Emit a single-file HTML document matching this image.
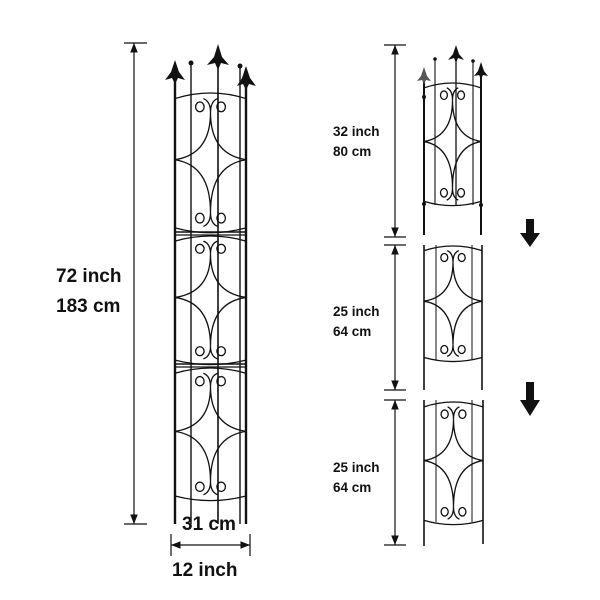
<!DOCTYPE html>
<html><head><meta charset="utf-8"><style>
html,body{margin:0;padding:0;background:#fff;}
svg{display:block}
text{font-family:"Liberation Sans",sans-serif;font-weight:bold;fill:#111}
</style></head><body>
<svg width="600" height="600" viewBox="0 0 600 600" xmlns="http://www.w3.org/2000/svg">
<defs>
<marker id="ah" viewBox="0 0 10 10" refX="10" refY="5" markerWidth="8" markerHeight="8" orient="auto-start-reverse"><path d="M0,1 L10,5 L0,9 z" fill="#111"/></marker>
<symbol id="panel" viewBox="0 0 100 100" preserveAspectRatio="none" overflow="visible">
<g fill="none" stroke="#111" stroke-width="1.3" vector-effect="non-scaling-stroke">
<path vector-effect="non-scaling-stroke" d="M0,4 Q50,-4 100,4"/>
<path vector-effect="non-scaling-stroke" d="M0,97 Q50,104 100,97"/>
<path vector-effect="non-scaling-stroke" d="M50,14 Q50,44 0,48 M50,14 Q50,44 100,48"/>
<path vector-effect="non-scaling-stroke" d="M0,48 Q50,52 50,86 M100,48 Q50,52 50,86"/>
<path vector-effect="non-scaling-stroke" d="M50,14 Q50,6 40,4 M50,14 Q50,6 60,4"/>
<path vector-effect="non-scaling-stroke" d="M50,86 Q50,94 40,96 M50,86 Q50,94 60,96"/>
<ellipse vector-effect="non-scaling-stroke" cx="35" cy="10" rx="6" ry="3.5"/>
<ellipse vector-effect="non-scaling-stroke" cx="65" cy="10" rx="6" ry="3.5"/>
<ellipse vector-effect="non-scaling-stroke" cx="35" cy="90" rx="6" ry="3.5"/>
<ellipse vector-effect="non-scaling-stroke" cx="65" cy="90" rx="6" ry="3.5"/>
</g>
</symbol>
</defs>

<!-- LEFT TRELLIS -->
<g stroke="#111" fill="none">
<line x1="134" y1="43" x2="134" y2="524" stroke-width="1.2" marker-start="url(#ah)" marker-end="url(#ah)"/>
<line x1="124" y1="43" x2="147" y2="43" stroke-width="1.2"/>
<line x1="124" y1="524" x2="147" y2="524" stroke-width="1.2"/>
<line x1="175" y1="72" x2="175" y2="524" stroke-width="2.4"/>
<line x1="191" y1="64" x2="191" y2="524" stroke-width="1.4"/>
<line x1="218" y1="60" x2="218" y2="524" stroke-width="1.6"/>
<line x1="240" y1="67" x2="240" y2="524" stroke-width="1.4"/>
<line x1="246" y1="78" x2="246" y2="524" stroke-width="2.4"/>
<line x1="176" y1="232" x2="246" y2="232" stroke-width="1.5"/>
<line x1="176" y1="235" x2="246" y2="235" stroke-width="1.2"/>
<line x1="176" y1="364" x2="246" y2="364" stroke-width="1.5"/>
<line x1="176" y1="367" x2="246" y2="367" stroke-width="1.2"/>
</g>
<use href="#panel" x="175" y="93" width="71" height="139"/>
<use href="#panel" x="175" y="236" width="71" height="128"/>
<use href="#panel" x="175" y="368" width="71" height="132"/>
<g fill="#111">
<circle cx="191" cy="63" r="2.5"/><circle cx="240" cy="66" r="2.5"/>
<path d="M175,60 L179,72 L185,80 L178,78 L175,84 L172,78 L165,80 L171,72 z"/>
<path d="M218,44 L222,57 L229,65 L221,63 L218,70 L215,63 L207,65 L214,57 z"/>
<path d="M246,66 L250,78 L256,86 L249,84 L246,90 L243,84 L237,86 L242,78 z"/>
</g>
<g stroke="#111" stroke-width="1.2">
<line x1="171" y1="534" x2="171" y2="556"/><line x1="250" y1="534" x2="250" y2="556"/>
<line x1="171" y1="545" x2="250" y2="545" marker-start="url(#ah)" marker-end="url(#ah)"/>
</g>
<text x="56" y="282" font-size="19">72 inch</text>
<text x="56" y="312" font-size="19">183 cm</text>
<text x="182" y="530" font-size="19">31 cm</text>
<text x="172" y="576" font-size="19">12 inch</text>

<!-- RIGHT TRELLIS -->
<g stroke="#111" fill="none" stroke-width="1.2">
<line x1="384" y1="45" x2="406" y2="45"/>
<line x1="384" y1="237" x2="406" y2="237"/>
<line x1="384" y1="245" x2="406" y2="245"/>
<line x1="384" y1="390" x2="406" y2="390"/>
<line x1="384" y1="400" x2="406" y2="400"/>
<line x1="384" y1="545" x2="406" y2="545"/>
<line x1="395" y1="45" x2="395" y2="237" marker-start="url(#ah)" marker-end="url(#ah)"/>
<line x1="395" y1="245" x2="395" y2="390" marker-start="url(#ah)" marker-end="url(#ah)"/>
<line x1="395" y1="400" x2="395" y2="545" marker-start="url(#ah)" marker-end="url(#ah)"/>
</g>
<g stroke="#111" fill="none">
<line x1="424" y1="78" x2="424" y2="235" stroke-width="2"/>
<line x1="435" y1="60" x2="435" y2="205" stroke-width="1.1"/>
<line x1="456" y1="55" x2="456" y2="205" stroke-width="1.3"/>
<line x1="473" y1="62" x2="473" y2="205" stroke-width="1.1"/>
<line x1="481" y1="72" x2="481" y2="235" stroke-width="2"/>
<line x1="424" y1="245" x2="424" y2="390" stroke-width="1.6"/>
<line x1="436" y1="245" x2="436" y2="360" stroke-width="1"/>
<line x1="472" y1="245" x2="472" y2="360" stroke-width="1"/>
<line x1="482" y1="245" x2="482" y2="390" stroke-width="1.6"/>
<line x1="424" y1="400" x2="424" y2="546" stroke-width="1.6"/>
<line x1="436" y1="400" x2="436" y2="522" stroke-width="1"/>
<line x1="472" y1="400" x2="472" y2="522" stroke-width="1"/>
<line x1="483" y1="400" x2="483" y2="544" stroke-width="1.6"/>
</g>
<use href="#panel" x="424" y="83" width="57" height="122"/>
<use href="#panel" x="424" y="246" width="58" height="115"/>
<use href="#panel" x="424" y="402" width="59" height="122"/>
<g fill="#111">
<circle cx="435" cy="59" r="1.8"/><circle cx="473" cy="61" r="1.8"/>
<circle cx="424" cy="97" r="2"/><circle cx="481" cy="205" r="2"/><circle cx="424" cy="204" r="2"/>
<path d="M424,67 L427,76 L431,81 L426,80 L424,84 L422,80 L417,81 L421,76 z" fill="#555"/>
<path d="M456,45 L459,54 L464,60 L458,58 L456,63 L454,58 L448,60 L453,54 z"/>
<path d="M481,62 L484,71 L488,76 L483,75 L481,79 L479,75 L474,76 L478,71 z"/>
<path d="M526,219 L534,219 L534,233 L540,233 L530,247 L520,233 L526,233 z"/>
<path d="M526,382 L534,382 L534,400 L540,400 L530,416 L520,400 L526,400 z"/>
</g>
<text x="333" y="136" font-size="13.5">32 inch</text>
<text x="333" y="156" font-size="13.5">80 cm</text>
<text x="333" y="316" font-size="13.5">25 inch</text>
<text x="333" y="336" font-size="13.5">64 cm</text>
<text x="333" y="472" font-size="13.5">25 inch</text>
<text x="333" y="492" font-size="13.5">64 cm</text>
</svg>
</body></html>
